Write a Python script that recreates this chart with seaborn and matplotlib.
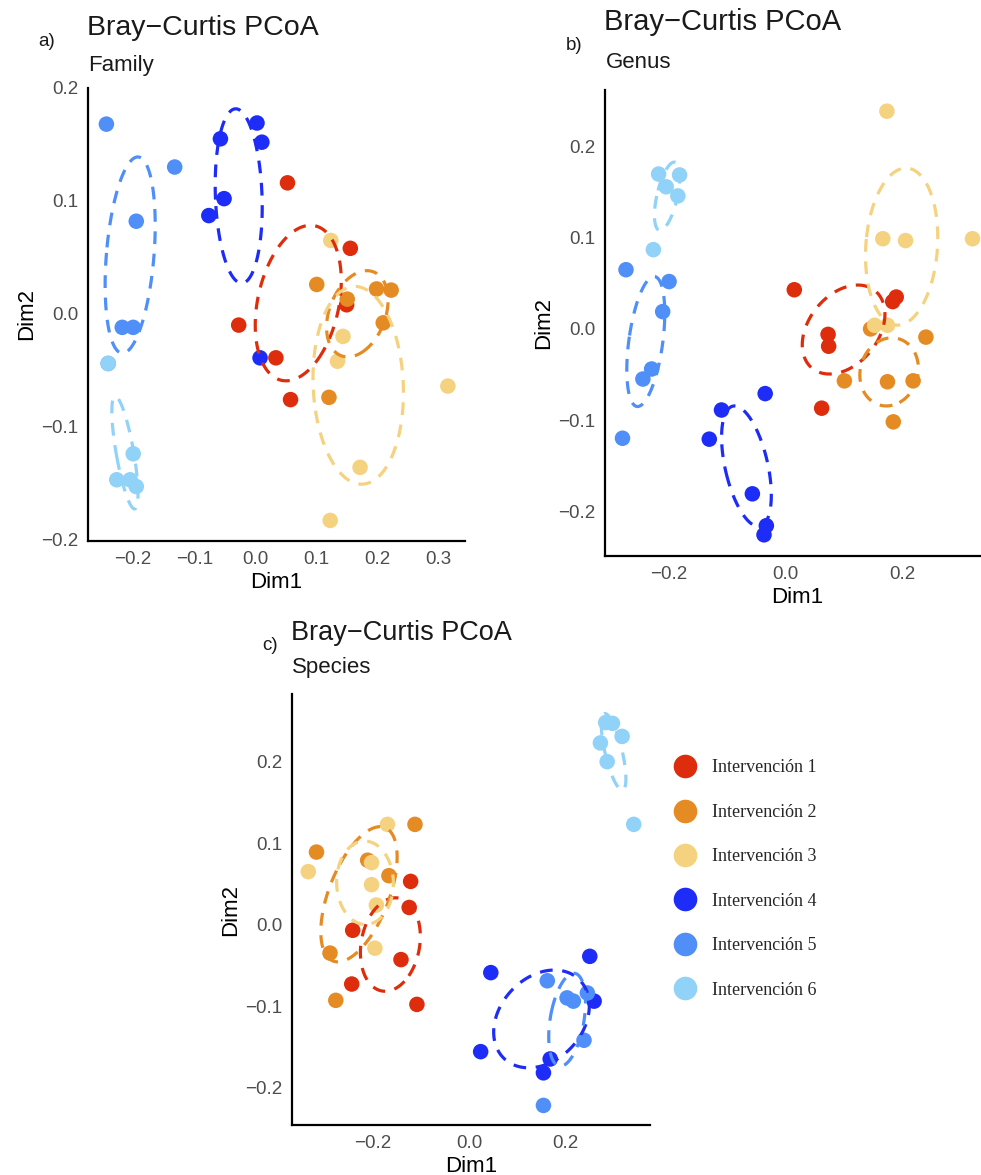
import numpy as np
import pandas as pd
import seaborn as sns
import matplotlib.pyplot as plt
from matplotlib.lines import Line2D

sns.set_style("white")
plt.rcParams['font.family'] = ['Liberation Sans', 'DejaVu Sans']

groups = ["Intervención 1", "Intervención 2", "Intervención 3",
          "Intervención 4", "Intervención 5", "Intervención 6"]
colors = ["#DE2D0C", "#E58B24", "#F5D27F", "#1D2CF7", "#4F8FF7", "#91D2F9"]

# panel a) Family
fam_group = [1]*6 + [2]*6 + [3]*6 + [4]*6 + [5]*6 + [6]*5
fam_dim1 = [0.053, 0.156, -0.027, 0.034, 0.058, 0.150,
            0.101, 0.151, 0.199, 0.223, 0.210, 0.121,
            0.124, 0.144, 0.135, 0.316, 0.172, 0.123,
            0.003, 0.011, -0.057, -0.051, -0.076, 0.008,
            -0.244, -0.132, -0.195, -0.218, -0.200, -0.241,
            -0.241, -0.200, -0.227, -0.205, -0.195]
fam_dim2 = [0.116, 0.058, -0.010, -0.039, -0.076, 0.008,
            0.026, 0.013, 0.022, 0.021, -0.008, -0.074,
            0.065, -0.020, -0.042, -0.064, -0.136, -0.183,
            0.169, 0.152, 0.155, 0.102, 0.087, -0.039,
            0.168, 0.130, 0.082, -0.012, -0.012, -0.044,
            -0.044, -0.124, -0.147, -0.147, -0.153]

# panel b) Genus
gen_group = [1]*6 + [2]*6 + [3]*6 + [4]*6 + [5]*6 + [6]*5
gen_dim1 = [0.015, 0.073, 0.074, 0.062, 0.190, 0.184,
            0.146, 0.241, 0.101, 0.175, 0.219, 0.185,
            0.174, 0.167, 0.206, 0.321, 0.153, 0.175,
            -0.035, -0.110, -0.131, -0.057, -0.033, -0.037,
            -0.274, -0.200, -0.211, -0.230, -0.245, -0.280,
            -0.218, -0.182, -0.205, -0.185, -0.227]
gen_dim2 = [0.043, -0.006, -0.019, -0.087, 0.035, 0.030,
            0.000, -0.009, -0.057, -0.058, -0.057, -0.102,
            0.239, 0.099, 0.097, 0.099, 0.004, 0.004,
            -0.071, -0.089, -0.121, -0.181, -0.216, -0.226,
            0.065, 0.052, 0.019, -0.044, -0.055, -0.120,
            0.170, 0.169, 0.156, 0.146, 0.087]

# panel c) Species
spe_group = [1]*6 + [2]*6 + [3]*6 + [4]*6 + [5]*6 + [6]*6
spe_dim1 = [-0.121, -0.124, -0.241, -0.141, -0.243, -0.108,
            -0.112, -0.316, -0.166, -0.210, -0.288, -0.276,
            -0.169, -0.333, -0.202, -0.202, -0.192, -0.195,
            0.250, 0.045, 0.259, 0.024, 0.168, 0.154,
            0.162, 0.203, 0.216, 0.245, 0.238, 0.154,
            0.283, 0.297, 0.317, 0.272, 0.286, 0.341]
spe_dim2 = [0.053, 0.021, -0.007, -0.043, -0.073, -0.098,
            0.123, 0.089, 0.060, 0.079, -0.035, -0.093,
            0.123, 0.065, 0.076, 0.049, 0.024, -0.029,
            -0.039, -0.059, -0.094, -0.156, -0.165, -0.182,
            -0.069, -0.090, -0.094, -0.084, -0.142, -0.222,
            0.248, 0.247, 0.231, 0.223, 0.200, 0.123]

W, H = 981, 1175
fig = plt.figure(figsize=(W/100, H/100), dpi=100)


def px(x0, x1, y0, y1):
    return [x0/W, 1 - y1/H, (x1 - x0)/W, (y1 - y0)/H]


def conf_ellipse(x, y):
    # confidence ellipse of the group centroid (95%)
    x = np.asarray(x); y = np.asarray(y)
    cov = np.cov(x, y) / len(x)
    vals, vecs = np.linalg.eigh(cov)
    r = np.sqrt(-2*np.log(0.05))
    t = np.linspace(0, 2*np.pi, 120)
    circ = np.vstack([np.cos(t), np.sin(t)])
    pts = vecs @ (np.sqrt(vals)[:, None] * circ) * r
    return x.mean() + pts[0], y.mean() + pts[1]


def panel(rect, dim1, dim2, grp, xticks, title, sub, letter, tsize, tpos, spos, lpos):
    ax = fig.add_axes(px(*rect))
    df = pd.DataFrame({"Dim1": dim1, "Dim2": dim2,
                       "grp": [groups[g-1] for g in grp]})
    sns.scatterplot(data=df, x="Dim1", y="Dim2", hue="grp", hue_order=groups,
                    palette=colors, s=125, linewidth=0, alpha=1,
                    legend=False, ax=ax, zorder=2)
    allx, ally = list(dim1), list(dim2)
    for i, g in enumerate(groups):
        sub_df = df[df.grp == g]
        ex, ey = conf_ellipse(sub_df.Dim1, sub_df.Dim2)
        ax.plot(ex, ey, color=colors[i], lw=2.3, ls=(0, (4, 3)), zorder=3)
        allx += list(ex); ally += list(ey)
    xr = max(allx) - min(allx); yr = max(ally) - min(ally)
    ax.set_xlim(min(allx) - 0.05*xr, max(allx) + 0.05*xr)
    ax.set_ylim(min(ally) - 0.05*yr, max(ally) + 0.05*yr)
    ax.set_xticks(xticks)
    ax.set_yticks([-0.2, -0.1, 0.0, 0.1, 0.2])
    ax.set_xlabel("Dim1", fontsize=16, color="black", labelpad=3)
    ax.set_ylabel("Dim2", fontsize=16, color="black", labelpad=3)
    ax.tick_params(axis="both", labelsize=13.5, labelcolor="#4D4D4D",
                   color="#333333", length=4, width=1, direction="out", pad=3)
    for s in ["top", "right"]:
        ax.spines[s].set_visible(False)
    for s in ["left", "bottom"]:
        ax.spines[s].set_linewidth(1.6)
        ax.spines[s].set_color("black")
    fig.text(tpos[0]/W, 1 - tpos[1]/H, title, fontsize=tsize, color="#1a1a1a",
             ha="left", va="center")
    fig.text(spos[0]/W, 1 - spos[1]/H, sub, fontsize=16, color="#1a1a1a",
             ha="left", va="center")
    fig.text(lpos[0]/W, 1 - lpos[1]/H, letter, fontsize=13.5, color="#1a1a1a",
             ha="left", va="center")
    return ax


panel((88, 465, 88, 541), fam_dim1, fam_dim2, fam_group,
      [-0.2, -0.1, 0.0, 0.1, 0.2, 0.3], "Bray\u2212Curtis PCoA", "Family", "a)",
      20.5, (87, 28), (88, 66), (38, 42))
panel((605, 990, 90, 556), gen_dim1, gen_dim2, gen_group,
      [-0.2, 0.0, 0.2], "Bray\u2212Curtis PCoA", "Genus", "b)",
      21, (604, 22), (606, 62), (566, 45))
panel((292, 650, 694, 1125), spe_dim1, spe_dim2, spe_group,
      [-0.2, 0.0, 0.2], "Bray\u2212Curtis PCoA", "Species", "c)",
      19.5, (291, 633), (292, 668), (262, 645))

handles = [Line2D([], [], ls="none", marker="o", markersize=17,
                  markerfacecolor=c, markeredgewidth=0) for c in colors]
fig.legend(handles, groups, loc="center left",
           bbox_to_anchor=(660/W, 1 - 879/H), frameon=False,
           prop={"family": "Liberation Serif", "size": 13},
           labelspacing=1.52, handletextpad=1.0, handlelength=1.0)

fig.savefig("out.png", dpi=100)
